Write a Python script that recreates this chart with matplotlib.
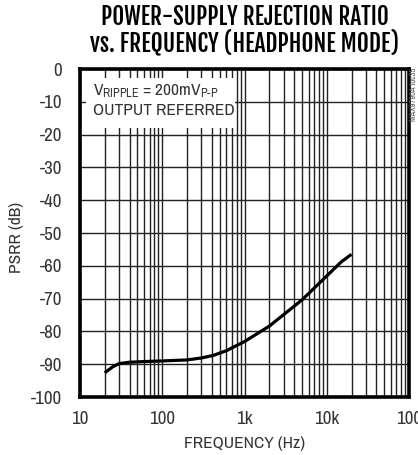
import matplotlib
matplotlib.use("Agg")
import matplotlib.pyplot as plt
from matplotlib.ticker import FixedLocator, NullFormatter, LogLocator
import numpy as np

# ---- data ----
freq_hz = [20, 25, 30, 40, 60, 100, 200, 300, 420, 600, 1000, 2000, 5000, 10000, 15000, 20000]
psrr_db = [-92.6, -90.8, -89.8, -89.4, -89.2, -89.0, -88.7, -88.1, -87.3, -85.9, -83.1, -78.4, -70.4, -63.1, -58.8, -56.5]
xtick_vals = [10, 100, 1000, 10000, 100000]
xtick_labels = ["10", "100", "1k", "10k", "100"]
ytick_vals = [0, -10, -20, -30, -40, -50, -60, -70, -80, -90, -100]
ytick_labels = [str(v) for v in ytick_vals]

FONT = ["Archivo Narrow", "Roboto Condensed", "DejaVu Sans"]
TITLE_FONT = ["Fjalla One", "Roboto Condensed", "DejaVu Sans"]
plt.rcParams["font.family"] = FONT
plt.rcParams["mathtext.fontset"] = "custom"
plt.rcParams["mathtext.rm"] = "Archivo Narrow"

W, H = 418, 455
fig = plt.figure(figsize=(W / 100, H / 100), dpi=100)
r = fig.canvas.get_renderer()


def fit_size(text, target_px, base=14.0, family=FONT):
    t = fig.text(0, 0, text, fontsize=base, family=family)
    w = t.get_window_extent(r).width
    t.remove()
    return base * target_px / w


tick_fs = fit_size("-100", 31)
ann_fs = 12.5
lab_fs = 12.5

L, R, T, B = 80, 409, 69, 397
ax = fig.add_axes([L / W, 1 - B / H, (R - L) / W, (B - T) / H])

ax.set_xscale("log")
ax.set_xlim(10, 100000)
ax.set_ylim(-100, 0)

ax.xaxis.set_major_locator(FixedLocator(xtick_vals))
ax.set_xticklabels(xtick_labels)
ax.xaxis.set_minor_locator(LogLocator(base=10, subs=np.arange(2, 10)))
ax.xaxis.set_minor_formatter(NullFormatter())
ax.set_yticks(ytick_vals)
ax.set_yticklabels(ytick_labels)

ax.grid(True, which="major", axis="both", color="#222222", lw=1.0)
ax.grid(True, which="minor", axis="x", color="#222222", lw=1.0)
ax.set_axisbelow(True)

for s in ax.spines.values():
    s.set_linewidth(2.6)
    s.set_color("black")

TC = "#333333"
ax.tick_params(which="both", length=0, labelsize=tick_fs, labelcolor=TC)
ax.tick_params(axis="y", pad=13)
ax.tick_params(axis="x", pad=10)

ax.plot(freq_hz, psrr_db, color="black", lw=2.3, solid_capstyle="butt", zorder=3)

# annotation box (white, covers grid)
ax.add_patch(plt.Rectangle((0.018, 0.82), 0.452, 0.153, transform=ax.transAxes,
                           facecolor="white", edgecolor="none", zorder=2))
ax.text(0.04, 0.921, r"V$\mathregular{_{RIPPLE}}$ = 200mV$\mathregular{_{P\text{-}P}}$",
        transform=ax.transAxes, fontsize=ann_fs, color=TC, zorder=4, va="baseline")
ax.text(0.04, 0.860, "OUTPUT REFERRED", transform=ax.transAxes, fontsize=ann_fs,
        color=TC, zorder=4, va="baseline")

ax.set_ylabel("PSRR (dB)", fontsize=lab_fs, color=TC)
ax.yaxis.set_label_coords(-0.17, 0.485)
ax.set_xlabel("FREQUENCY (Hz)", fontsize=lab_fs, color=TC)
ax.xaxis.set_label_coords(0.5, -0.118)

t1 = fig.text(245 / W, 1 - 25 / H, "POWER-SUPPLY REJECTION RATIO", ha="center", va="baseline",
              fontsize=17, color="black", family=TITLE_FONT)
t2 = fig.text(245 / W, 1 - 51 / H, "vs. FREQUENCY (HEADPHONE MODE)", ha="center", va="baseline",
              fontsize=17, color="black", family=TITLE_FONT)
for t, target in ((t1, 288.0), (t2, 310.0)):
    w = t.get_window_extent(r).width
    t.set_fontsize(17 * target / w)

fig.text(413 / W, 1 - 68 / H, "MAX9790A toc35", rotation=90, ha="center", va="top",
         fontsize=6, color="#555555")

fig.savefig("out.png", dpi=100)
